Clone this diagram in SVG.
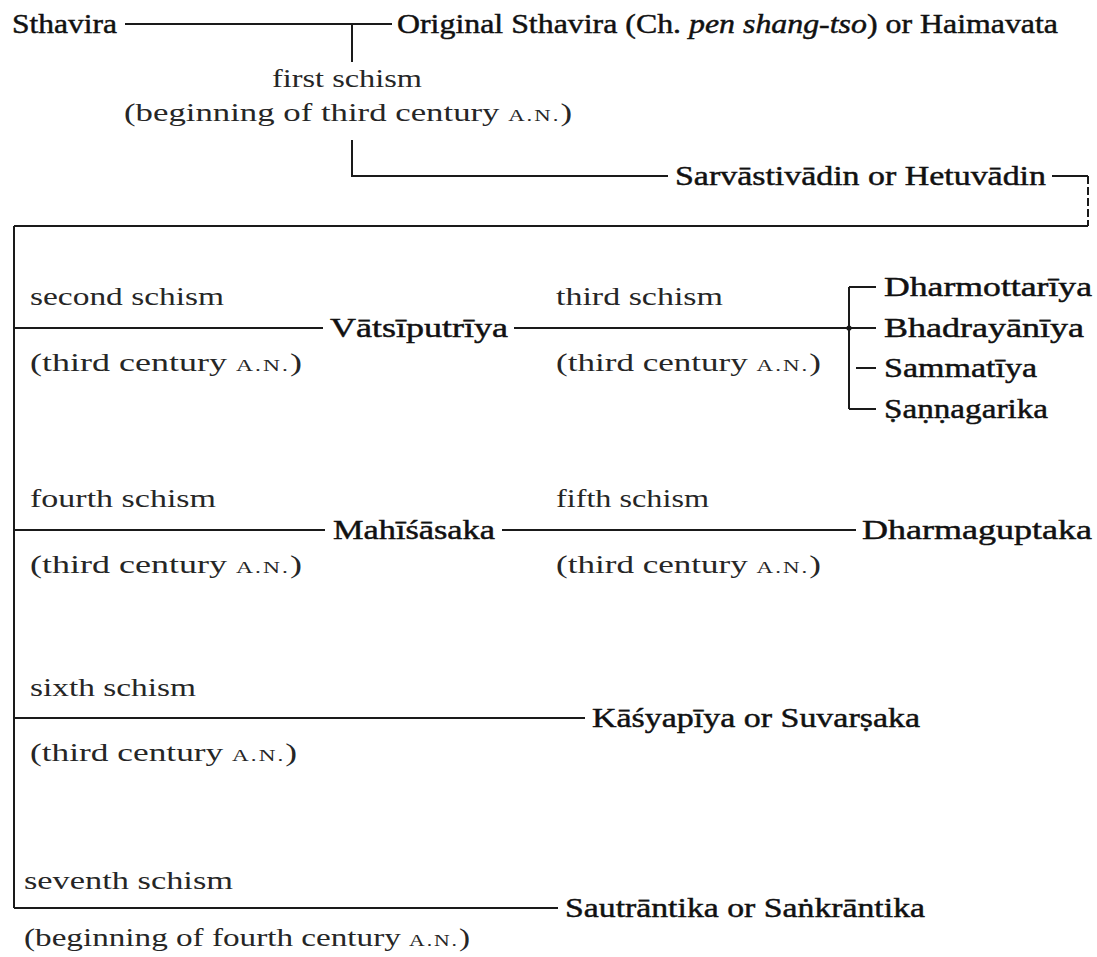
<svg xmlns="http://www.w3.org/2000/svg" width="1097" height="957" viewBox="0 0 1097 957">
  <style>
    text { font-family: "Liberation Serif", "DejaVu Serif", serif; font-size: 26px; fill: #262626; }
    .name { font-size: 27px; fill: #111; stroke: #111; stroke-width: 0.45px; }
    .sc { font-size: 17px; letter-spacing: 1.5px; }
    .ln { stroke: #1a1a1a; stroke-width: 2; fill: none; }
  </style>
  <rect width="1097" height="957" fill="#ffffff"/>

  <!-- connectors -->
  <g id="connectors" class="ln">
    <path d="M125 24 H392"/>
    <path d="M352 24 V62"/>
    <path d="M352 140 V176 H668"/>
    <path d="M1052 176 H1088"/>
    <path d="M1088 176 V226" stroke-dasharray="8 3"/>
    <path d="M14 226 H1088"/>
    <path d="M14 226 V908"/>
    <!-- second / third schism -->
    <path d="M14 328 H323"/>
    <path d="M514 328 H849"/>
    <path d="M849 287 V409"/>
    <path d="M849 287 H876"/>
    <path d="M849 328 H876"/>
    <path d="M856 368 H876"/>
    <path d="M849 409 H876"/>
    <!-- fourth / fifth schism -->
    <path d="M14 530 H325"/>
    <path d="M502 530 H856"/>
    <!-- sixth schism -->
    <path d="M14 718 H585"/>
    <!-- seventh schism -->
    <path d="M14 908 H558"/>
  </g>
  <circle cx="849" cy="328" r="2.6" fill="#1a1a1a"/>

  <g id="sthavira"><text class="name" x="12" y="33" textLength="105" lengthAdjust="spacingAndGlyphs">Sthavira</text></g>
  <g id="original-sthavira"><text class="name" x="397" y="33" textLength="661" lengthAdjust="spacingAndGlyphs">Original Sthavira (Ch. <tspan font-style="italic">pen shang-tso</tspan>) or Haimavata</text></g>
  <g id="first-schism">
    <text x="272" y="87" textLength="150" lengthAdjust="spacingAndGlyphs">first schism</text>
    <text x="124" y="121" textLength="448" lengthAdjust="spacingAndGlyphs">(beginning of third century <tspan class="sc">A.N.</tspan>)</text>
  </g>
  <g id="sarvastivadin"><text class="name" x="675" y="185" textLength="371" lengthAdjust="spacingAndGlyphs">Sarvāstivādin or Hetuvādin</text></g>

  <g id="second-schism">
    <text x="30" y="305" textLength="194" lengthAdjust="spacingAndGlyphs">second schism</text>
    <text x="30" y="371" textLength="272" lengthAdjust="spacingAndGlyphs">(third century <tspan class="sc">A.N.</tspan>)</text>
  </g>
  <g id="vatsiputriya"><text class="name" x="330" y="337" textLength="178" lengthAdjust="spacingAndGlyphs">Vātsīputrīya</text></g>
  <g id="third-schism">
    <text x="556" y="305" textLength="167" lengthAdjust="spacingAndGlyphs">third schism</text>
    <text x="556" y="371" textLength="265" lengthAdjust="spacingAndGlyphs">(third century <tspan class="sc">A.N.</tspan>)</text>
  </g>
  <g id="dharmottariya"><text class="name" x="884" y="296" textLength="208" lengthAdjust="spacingAndGlyphs">Dharmottarīya</text></g>
  <g id="bhadrayaniya"><text class="name" x="884" y="337" textLength="200" lengthAdjust="spacingAndGlyphs">Bhadrayānīya</text></g>
  <g id="sammatiya"><text class="name" x="884" y="377" textLength="153" lengthAdjust="spacingAndGlyphs">Sammatīya</text></g>
  <g id="sannagarika"><text class="name" x="884" y="418" textLength="164" lengthAdjust="spacingAndGlyphs">Ṣaṇṇagarika</text></g>

  <g id="fourth-schism">
    <text x="30" y="507" textLength="186" lengthAdjust="spacingAndGlyphs">fourth schism</text>
    <text x="30" y="573" textLength="272" lengthAdjust="spacingAndGlyphs">(third century <tspan class="sc">A.N.</tspan>)</text>
  </g>
  <g id="mahisasaka"><text class="name" x="333" y="539" textLength="162" lengthAdjust="spacingAndGlyphs">Mahīśāsaka</text></g>
  <g id="fifth-schism">
    <text x="556" y="507" textLength="153" lengthAdjust="spacingAndGlyphs">fifth schism</text>
    <text x="556" y="573" textLength="265" lengthAdjust="spacingAndGlyphs">(third century <tspan class="sc">A.N.</tspan>)</text>
  </g>
  <g id="dharmaguptaka"><text class="name" x="862" y="539" textLength="230" lengthAdjust="spacingAndGlyphs">Dharmaguptaka</text></g>

  <g id="sixth-schism">
    <text x="30" y="696" textLength="166" lengthAdjust="spacingAndGlyphs">sixth schism</text>
    <text x="30" y="761" textLength="267" lengthAdjust="spacingAndGlyphs">(third century <tspan class="sc">A.N.</tspan>)</text>
  </g>
  <g id="kasyapiya"><text class="name" x="592" y="727" textLength="328" lengthAdjust="spacingAndGlyphs">Kāśyapīya or Suvarṣaka</text></g>

  <g id="seventh-schism">
    <text x="24" y="889" textLength="209" lengthAdjust="spacingAndGlyphs">seventh schism</text>
    <text x="24" y="946" textLength="446" lengthAdjust="spacingAndGlyphs">(beginning of fourth century <tspan class="sc">A.N.</tspan>)</text>
  </g>
  <g id="sautrantika"><text class="name" x="565" y="917" textLength="360" lengthAdjust="spacingAndGlyphs">Sautrāntika or Saṅkrāntika</text></g>
</svg>
